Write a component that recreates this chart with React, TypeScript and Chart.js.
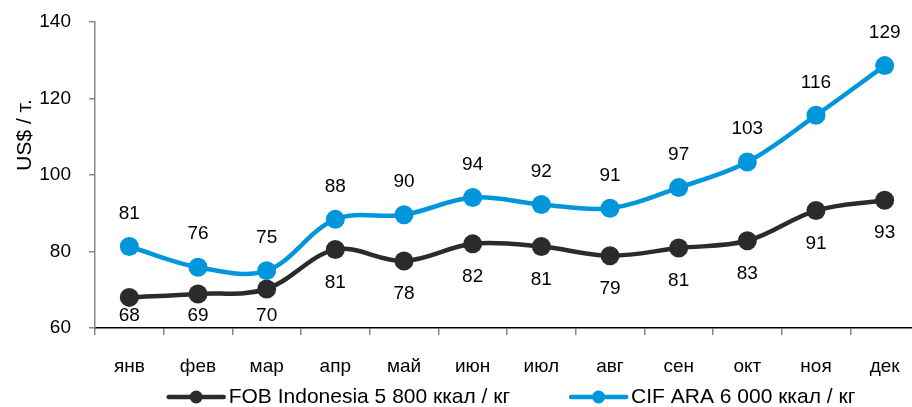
import React, { useEffect, useRef } from "react";
import { Chart, registerables } from "chart.js";

Chart.register(...registerables);

const months = ["янв", "фев", "мар", "апр", "май", "июн", "июл", "авг", "сен", "окт", "ноя", "дек"];
const fobValues = [68.0, 68.9, 70.2, 80.5, 77.5, 82.0, 81.3, 78.9, 80.9, 82.8, 90.7, 93.4];
const cifValues = [81.3, 75.9, 75.0, 88.4, 89.6, 94.1, 92.3, 91.3, 96.7, 103.4, 115.6, 128.6];
const seriesNames = ["FOB Indonesia 5 800 ккал / кг", "CIF ARA 6 000 ккал / кг"];
const yTitle = "US$ / т.";

const FONT = "'Liberation Sans', Arial, sans-serif";
const BLACK = "#2B2B2B";
const BLUE = "#0096DB";

const W = 930;
const H = 407;

const extrasPlugin = {
  id: "extras",
  afterDatasetsDraw(chart: any) {
    const ctx = chart.ctx;
    const area = chart.chartArea;
    ctx.save();
    ctx.font = `19px ${FONT}`;
    ctx.fillStyle = "#000";
    ctx.textAlign = "center";
    ctx.textBaseline = "middle";
    chart.data.datasets.forEach((ds: any, di: number) => {
      const meta = chart.getDatasetMeta(di);
      meta.data.forEach((pt: any, i: number) => {
        const v = Math.round(ds.data[i]);
        let y;
        if (di === 1) {
          y = pt.y - 33;
        } else {
          y = Math.min(pt.y + 33, area.bottom - 12);
        }
        ctx.fillText(String(v), pt.x, y);
      });
    });
    ctx.restore();
  },
  afterDraw(chart: any) {
    const ctx = chart.ctx;
    const area = chart.chartArea;
    ctx.save();
    // y axis title
    ctx.font = `21px ${FONT}`;
    ctx.fillStyle = "#000";
    ctx.translate(25, 135);
    ctx.rotate(-Math.PI / 2);
    ctx.textAlign = "center";
    ctx.textBaseline = "middle";
    ctx.fillText(yTitle, 0, 0);
    ctx.restore();

    // legend
    ctx.save();
    ctx.font = `21px ${FONT}`;
    const lineLen = 55;
    const gapText = 5;
    const gapItems = 61;
    const widths = seriesNames.map((n) => ctx.measureText(n).width);
    const total = widths.reduce((a, w) => a + lineLen + gapText + w, 0) + gapItems;
    const center = (area.left + area.right) / 2 + 5;
    let x = center - total / 2;
    const y = 397;
    const colors = [BLACK, BLUE];
    seriesNames.forEach((n, i) => {
      ctx.strokeStyle = colors[i];
      ctx.lineWidth = 4.5;
      ctx.lineCap = "round";
      ctx.beginPath();
      ctx.moveTo(x, y);
      ctx.lineTo(x + lineLen, y);
      ctx.stroke();
      ctx.fillStyle = colors[i];
      ctx.beginPath();
      ctx.arc(x + lineLen / 2, y, 6.5, 0, Math.PI * 2);
      ctx.fill();
      ctx.fillStyle = "#000";
      ctx.textAlign = "left";
      ctx.textBaseline = "middle";
      ctx.fillText(n, x + lineLen + gapText, y);
      x += lineLen + gapText + widths[i] + gapItems;
    });
    ctx.restore();
  },
};

export default function App() {
  const canvasRef = useRef<HTMLCanvasElement | null>(null);

  useEffect(() => {
    document.body.style.margin = "0";
    document.body.style.overflow = "hidden";
    const canvas = canvasRef.current;
    if (!canvas) return;
    const chart = new Chart(canvas, {
      type: "line",
      data: {
        labels: months,
        datasets: [
          {
            label: seriesNames[0],
            data: fobValues,
            borderColor: BLACK,
            backgroundColor: BLACK,
            pointBackgroundColor: BLACK,
            pointBorderColor: BLACK,
            borderWidth: 4.5,
            pointRadius: 9.5,
            pointBorderWidth: 0,
            tension: 0.35,
            order: 2,
          },
          {
            label: seriesNames[1],
            data: cifValues,
            borderColor: BLUE,
            backgroundColor: BLUE,
            pointBackgroundColor: BLUE,
            pointBorderColor: BLUE,
            borderWidth: 4.5,
            pointRadius: 9.5,
            pointBorderWidth: 0,
            tension: 0.35,
            order: 1,
          },
        ],
      },
      options: {
        responsive: false,
        animation: false,
        devicePixelRatio: 1,
        layout: { padding: { top: 22, right: W - 919, left: 0, bottom: 0 } },
        font: { family: FONT, size: 19 },
        plugins: {
          legend: { display: false },
          title: { display: false },
          tooltip: { enabled: false },
        },
        scales: {
          x: {
            type: "category",
            offset: true,
            grid: {
              display: true,
              drawOnChartArea: false,
              drawTicks: true,
              tickLength: 7,
              offset: true,
              color: "#888",
              lineWidth: 1.5,
            },
            border: { display: true, color: "#000", width: 1.5 },
            ticks: {
              font: { family: FONT, size: 19 },
              color: "#000",
              padding: 20,
              maxRotation: 0,
              autoSkip: false,
            },
            afterFit: (s: any) => {
              s.height = 79;
              s.paddingLeft = 0;
              s.paddingRight = 0;
            },
          },
          y: {
            min: 60,
            max: 140,
            ticks: {
              stepSize: 20,
              font: { family: FONT, size: 19 },
              color: "#000",
              padding: 18,
            },
            grid: {
              display: true,
              drawOnChartArea: false,
              drawTicks: true,
              tickLength: 6,
              color: "#888",
              lineWidth: 1.5,
            },
            border: { display: true, color: "#888", width: 1.5 },
            afterFit: (s: any) => {
              s.width = 95;
              s.paddingTop = 0;
              s.paddingBottom = 0;
            },
          },
        },
      },
      plugins: [extrasPlugin],
    } as any);
    return () => chart.destroy();
  }, []);

  return (
    <div style={{ position: "fixed", left: 0, top: 0, width: W, height: H }}>
      <canvas ref={canvasRef} width={W} height={H} style={{ width: W, height: H, display: "block" }} />
    </div>
  );
}
